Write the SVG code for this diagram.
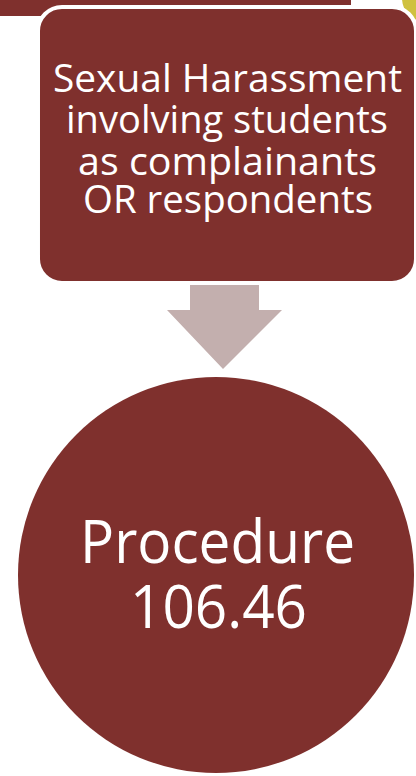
<svg xmlns="http://www.w3.org/2000/svg" width="416" height="776" viewBox="0 0 416 776">
<style>
.fill{fill:#7f302d}
.t{fill:#ffffff;font-family:"Open Sans","DejaVu Sans",Tahoma,sans-serif;text-anchor:middle}
.s{font-size:39px}
.b{font-size:60px}
</style>
<rect width="416" height="776" fill="#ffffff"/>
<g id="prev-node">
<rect class="fill" x="0" y="0" width="351" height="16"/>
</g>
<g id="deco">
<circle cx="426" cy="-2" r="24" fill="#cfc13f"/>
</g>
<g id="node-harassment">
<rect class="fill" x="38" y="7" width="378" height="276" rx="24" ry="24" stroke="#ffffff" stroke-width="4"/>
<text class="t s" x="227.5" y="92" textLength="349" lengthAdjust="spacingAndGlyphs">Sexual Harassment</text>
<text class="t s" x="227" y="133" textLength="322" lengthAdjust="spacingAndGlyphs">involving students</text>
<text class="t s" x="227.5" y="175" textLength="299" lengthAdjust="spacingAndGlyphs">as complainants</text>
<text class="t s" x="228" y="213" textLength="290" lengthAdjust="spacingAndGlyphs">OR respondents</text>
</g>
<g id="connectors">
<polygon points="190,285 259,285 259,310 282,310 223,369 167,310 190,310" fill="#c3afae"/>
</g>
<g id="node-procedure">
<circle class="fill" cx="216" cy="575" r="198"/>
<text class="t b" x="217.5" y="563" textLength="275" lengthAdjust="spacingAndGlyphs">Procedure</text>
<text class="t b" x="218.5" y="628" textLength="177" lengthAdjust="spacingAndGlyphs">106.46</text>
</g>
</svg>
